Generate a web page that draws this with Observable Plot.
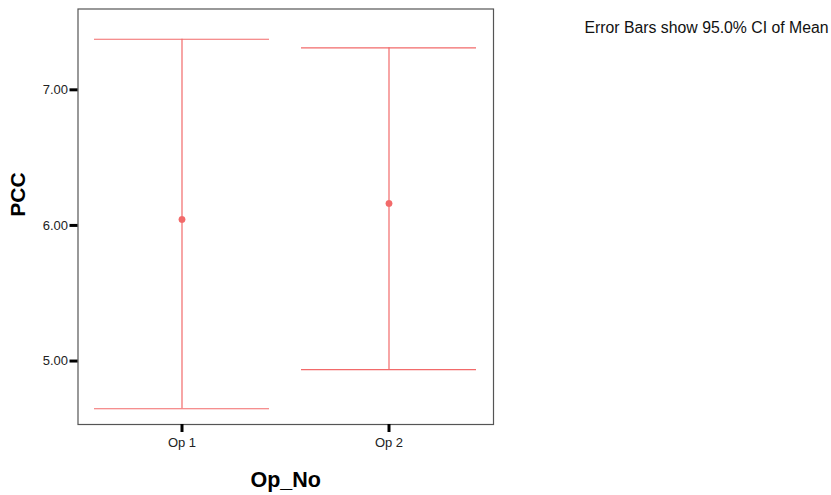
<!DOCTYPE html>
<html>
<head>
<meta charset="utf-8">
<script src="https://cdn.jsdelivr.net/npm/d3@7"></script>
<script src="https://cdn.jsdelivr.net/npm/@observablehq/plot@0.6"></script>
<style>
  html, body { margin: 0; padding: 0; background: #fff; }
  svg { font-family: Arial, "Liberation Sans", sans-serif; }
</style>
</head>
<body>
<div id="chart"></div>
<script>
const categories = ["Op 1", "Op 2"];
const means = [6.044, 6.162];
const lowers = [4.648, 4.936];
const uppers = [7.373, 7.310];
const yTicks = [5, 6, 7];
const yLabel = "PCC";
const xLabel = "Op_No";
const note = "Error Bars show 95.0% CI of Mean";

const data = categories.map((c, i) => ({cat: c, mean: means[i], lo: lowers[i], hi: uppers[i]}));
const red = "#f26a6a";

const chart = Plot.plot({
  width: 831,
  height: 495,
  marginLeft: 77.5,
  marginRight: 338,
  marginTop: 8.5,
  marginBottom: 71,
  style: {fontFamily: 'Arial, "Liberation Sans", sans-serif', fontSize: "13px", background: "#fff"},
  x: {type: "band", domain: categories, padding: 0, label: null},
  y: {domain: [4.532, 7.596], label: null},
  marks: [
    Plot.frame({stroke: "#555", strokeWidth: 1.2}),
    Plot.axisY({ticks: yTicks, tickFormat: d3.format(".2f"), tickSize: 8, tickPadding: 2,
      strokeWidth: 3, stroke: "#000", fontSize: 13, color: "#222", label: null}),
    Plot.axisX({tickSize: 8, tickPadding: 5, strokeWidth: 3, stroke: "#000", fontSize: 13, color: "#222", label: null}),
    Plot.ruleX(data, {x: "cat", y1: "lo", y2: "hi", stroke: red, strokeWidth: 1.2}),
    Plot.tickY(data, {x: "cat", y: "hi", stroke: red, strokeWidth: 1.2, insetLeft: 16, insetRight: 16}),
    Plot.tickY(data, {x: "cat", y: "lo", stroke: red, strokeWidth: 1.2, insetLeft: 16, insetRight: 16}),
    Plot.dot(data, {x: "cat", y: "mean", r: 3.2, fill: red, stroke: red, strokeWidth: 0.5}),
    Plot.text([yLabel], {frameAnchor: "left", lineAnchor: "middle", dx: -59.5, rotate: -90, fontSize: 21, fontWeight: "bold", fill: "#000"}),
    Plot.text([xLabel], {frameAnchor: "bottom", lineAnchor: "middle", dy: 56, fontSize: 21.5, fontWeight: "bold", fill: "#000"}),
    Plot.text([note], {frameAnchor: "top-right", lineAnchor: "middle", textAnchor: "start", dx: 91, dy: 19, fontSize: 15.8, fill: "#111"})
  ]
});
document.getElementById("chart").appendChild(chart);
</script>
</body>
</html>
